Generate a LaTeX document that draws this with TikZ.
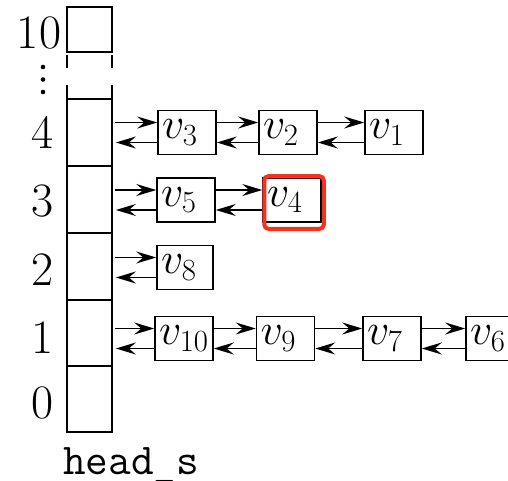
\RequirePackage{fix-cm}
\documentclass[tikz,border=0pt]{standalone}
\usetikzlibrary{arrows.meta}
\definecolor{hl}{RGB}{245,50,30}
\begin{document}
\begin{tikzpicture}[x=1pt,y=-1pt,
  cell/.style={draw, line width=1.7pt, minimum width=45pt, inner sep=0pt},
  vbox/.style={draw, line width=1.5pt, minimum height=44pt, text width=50pt, inner xsep=4pt, inner ysep=0pt, align=left, font=\fontsize{44}{48}\selectfont},
  lab/.style={font=\fontsize{48}{52}\selectfont, inner sep=0pt},
  ptr/.style={line width=1.5pt, -{Stealth[length=20pt,width=12pt,inset=7pt]}},
  tick/.style={line width=1.7pt}]
\useasboundingbox (0,0) rectangle (508,481);
\clip (0,0) rectangle (508,481);

% head_s column
\node[cell, minimum height=45pt] (h10) at (89.5,29.5) {};
\node[cell, minimum height=67pt] (h4) at (89.5,132.5) {};
\node[cell, minimum height=67pt] (h3) at (89.5,199.5) {};
\node[cell, minimum height=67pt] (h2) at (89.5,266.5) {};
\node[cell, minimum height=66pt] (h1) at (89.5,333) {};
\node[cell, minimum height=66pt] (h0) at (89.5,399) {};

% broken part of the column
\draw[tick] (67,55) -- (67,68);
\draw[tick] (112,55) -- (112,68);
\draw[tick] (67,85) -- (67,98);
\draw[tick] (112,85) -- (112,98);

% row labels
\node[lab] (l10) at (39,33) {10};
\node[lab] (l4) at (43,132) {4};
\node[lab] (l3) at (43,201) {3};
\node[lab] (l2) at (43,270) {2};
\node[lab] (l1) at (43,338) {1};
\node[lab] (l0) at (43,403) {0};
\fill (43,67) circle (2.3);
\fill (43,79.5) circle (2.3);
\fill (43,92) circle (2.3);

\node[anchor=base, font=\ttfamily\fontsize{44}{48}\selectfont, inner sep=0pt] (hs) at (131,474) {head{\char95}s};

% vertex boxes
\node[vbox] (v3) at (187,132.5) {$v_3$};
\node[vbox] (v2) at (288,132.5) {$v_2$};
\node[vbox] (v1) at (394,132.5) {$v_1$};

\node[vbox] (v5) at (186,200) {$v_5$};
\node[vbox] (v4) at (292,200) {$v_4$};

\node[vbox, text width=48pt] (v8) at (185,267.5) {$v_8$};

\node[vbox] (v10) at (184,338.5) {$v_{10}$};
\node[vbox] (v9) at (285.5,338.5) {$v_9$};
\node[vbox] (v7) at (392,338.5) {$v_7$};
\node[vbox] (v6) at (495,338.5) {$v_6$};

% pointers from head_s
\foreach \h/\v in {h4/v3, h3/v5, h2/v8, h1/v10}{
  \draw[ptr, shorten <=2pt] ([yshift=10pt]\v.west -| \h.east) -- ([yshift=10pt]\v.west);
  \draw[ptr, shorten >=3pt] ([yshift=-10pt]\v.west) -- ([yshift=-10pt]\v.west -| \h.east);
}
% pointers between vertices
\foreach \a/\b in {v3/v2, v2/v1, v5/v4, v10/v9, v9/v7, v7/v6}{
  \draw[ptr] ([yshift=10pt]\a.east) -- ([yshift=10pt]\b.west);
  \draw[ptr] ([yshift=-10pt]\b.west) -- ([yshift=-10pt]\a.east);
}

% highlight
\draw[hl, line width=4pt, rounded corners=4pt] ([shift={(2,-1)}]v4.north west) rectangle ([shift={(2,6)}]v4.south east);
\end{tikzpicture}
\end{document}
